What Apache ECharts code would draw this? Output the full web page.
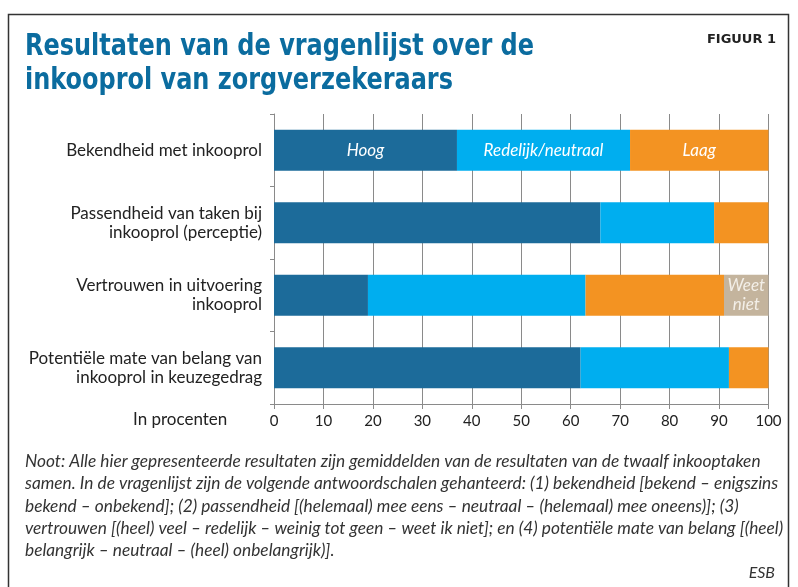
<!DOCTYPE html>
<html><head><meta charset="utf-8">
<script src="https://cdn.jsdelivr.net/npm/echarts@6/dist/echarts.min.js"></script>
<style>html,body{margin:0;padding:0;background:#fff}#c{width:798px;height:587px}</style>
</head><body><div id="c"></div>
<script>
const categories = [
  'Bekendheid met inkooprol',
  'Passendheid van taken bij\ninkooprol (perceptie)',
  'Vertrouwen in uitvoering\ninkooprol',
  'Potentiële mate van belang van\ninkooprol in keuzegedrag'
];
const seriesNames = ['Hoog', 'Redelijk/neutraal', 'Laag', 'Weet niet'];
const hoog = [37, 66, 19, 62];
const redelijk = [35, 23, 44, 30];
const laag = [28, 11, 28, 8];
const weetNiet = [0, 0, 9, 0];
const xTicks = [0, 10, 20, 30, 40, 50, 60, 70, 80, 90, 100];
const labelAt = [0, 0, 0, 2]; // category index where each series name is written
const colors = ['#1c6b9a', '#00aeef', '#f39322', '#c4b49d'];
const noteLines = [
  'Noot: Alle hier gepresenteerde resultaten zijn gemiddelden van de resultaten van de twaalf inkooptaken',
  'samen. In de vragenlijst zijn de volgende antwoordschalen gehanteerd: (1) bekendheid [bekend – enigszins',
  'bekend – onbekend]; (2) passendheid [(helemaal) mee eens – neutraal – (helemaal) mee oneens)]; (3)',
  'vertrouwen [(heel) veel – redelijk – weinig tot geen – weet ik niet]; en (4) potentiële mate van belang [(heel)',
  'belangrijk – neutraal – (heel) onbelangrijk)].'
];

const textFont = 'Lato';
const allValues = [hoog, redelijk, laag, weetNiet];
const series = allValues.map((vals, si) => ({
  name: seriesNames[si],
  type: 'bar',
  stack: 'total',
  barWidth: 41,
  itemStyle: { color: colors[si] },
  data: vals.map((v, i) => ({
    value: v,
    label: {
      show: i === labelAt[si],
      position: 'inside',
      formatter: si === 3 ? 'Weet\nniet' : seriesNames[si],
      color: si === 3 ? '#f3efe8' : '#fff',
      fontStyle: 'italic',
      fontFamily: textFont,
      fontSize: 17,
      lineHeight: 19
    }
  }))
}));

const chart = echarts.init(document.getElementById('c'), null, { renderer: 'canvas' });
chart.setOption({
  animation: false,
  grid: { left: 274, right: 29.5, top: 114, bottom: 183, containLabel: false },
  xAxis: {
    type: 'value', min: 0, max: 100, interval: 10,
    axisLine: { show: true, lineStyle: { color: '#8a8a8a', width: 1 } },
    axisTick: { show: true, length: 5, lineStyle: { color: '#8a8a8a' } },
    splitLine: { show: true, lineStyle: { color: '#8a8a8a', width: 1 } },
    axisLabel: {
      color: '#222', fontSize: 15, fontFamily: textFont, margin: 10,
      formatter: v => xTicks.indexOf(v) >= 0 ? String(v) : ''
    }
  },
  yAxis: {
    type: 'category', data: categories, inverse: true,
    axisLine: { show: true, lineStyle: { color: '#8a8a8a', width: 1 } },
    axisTick: { show: true, length: 4, lineStyle: { color: '#8a8a8a' } },
    axisLabel: { color: '#222', fontSize: 17, fontFamily: textFont, margin: 12, lineHeight: 19, align: 'right' }
  },
  series: series,
  graphic: [
    { type: 'rect', shape: { x: 8.5, y: 14.5, width: 780, height: 600 },
      style: { fill: 'none', stroke: '#333', lineWidth: 1.5 }, silent: true },
    { type: 'text', x: 25, y: 30, scaleX: 0.86,
      style: { text: 'Resultaten van de vragenlijst over de\ninkooprol van zorgverzekeraars',
        fill: '#0b6c9f', font: 'bold 31px "DejaVu Sans Condensed", sans-serif', lineHeight: 34 } },
    { type: 'text', right: 22, top: 33,
      style: { text: 'FIGUUR 1', fill: '#222', font: 'bold 13px "DejaVu Sans", sans-serif' } },
    { type: 'text', left: 133, top: 411,
      style: { text: 'In procenten', fill: '#222', font: '17px ' + textFont } },
    { type: 'text', left: 25, top: 450,
      style: { text: noteLines.join('\n'), fill: '#333', font: 'italic 17.3px ' + textFont, lineHeight: 22.4 } },
    { type: 'text', right: 23, top: 565,
      style: { text: 'ESB', fill: '#333', font: 'italic 16px ' + textFont } }
  ]
});
</script></body></html>
